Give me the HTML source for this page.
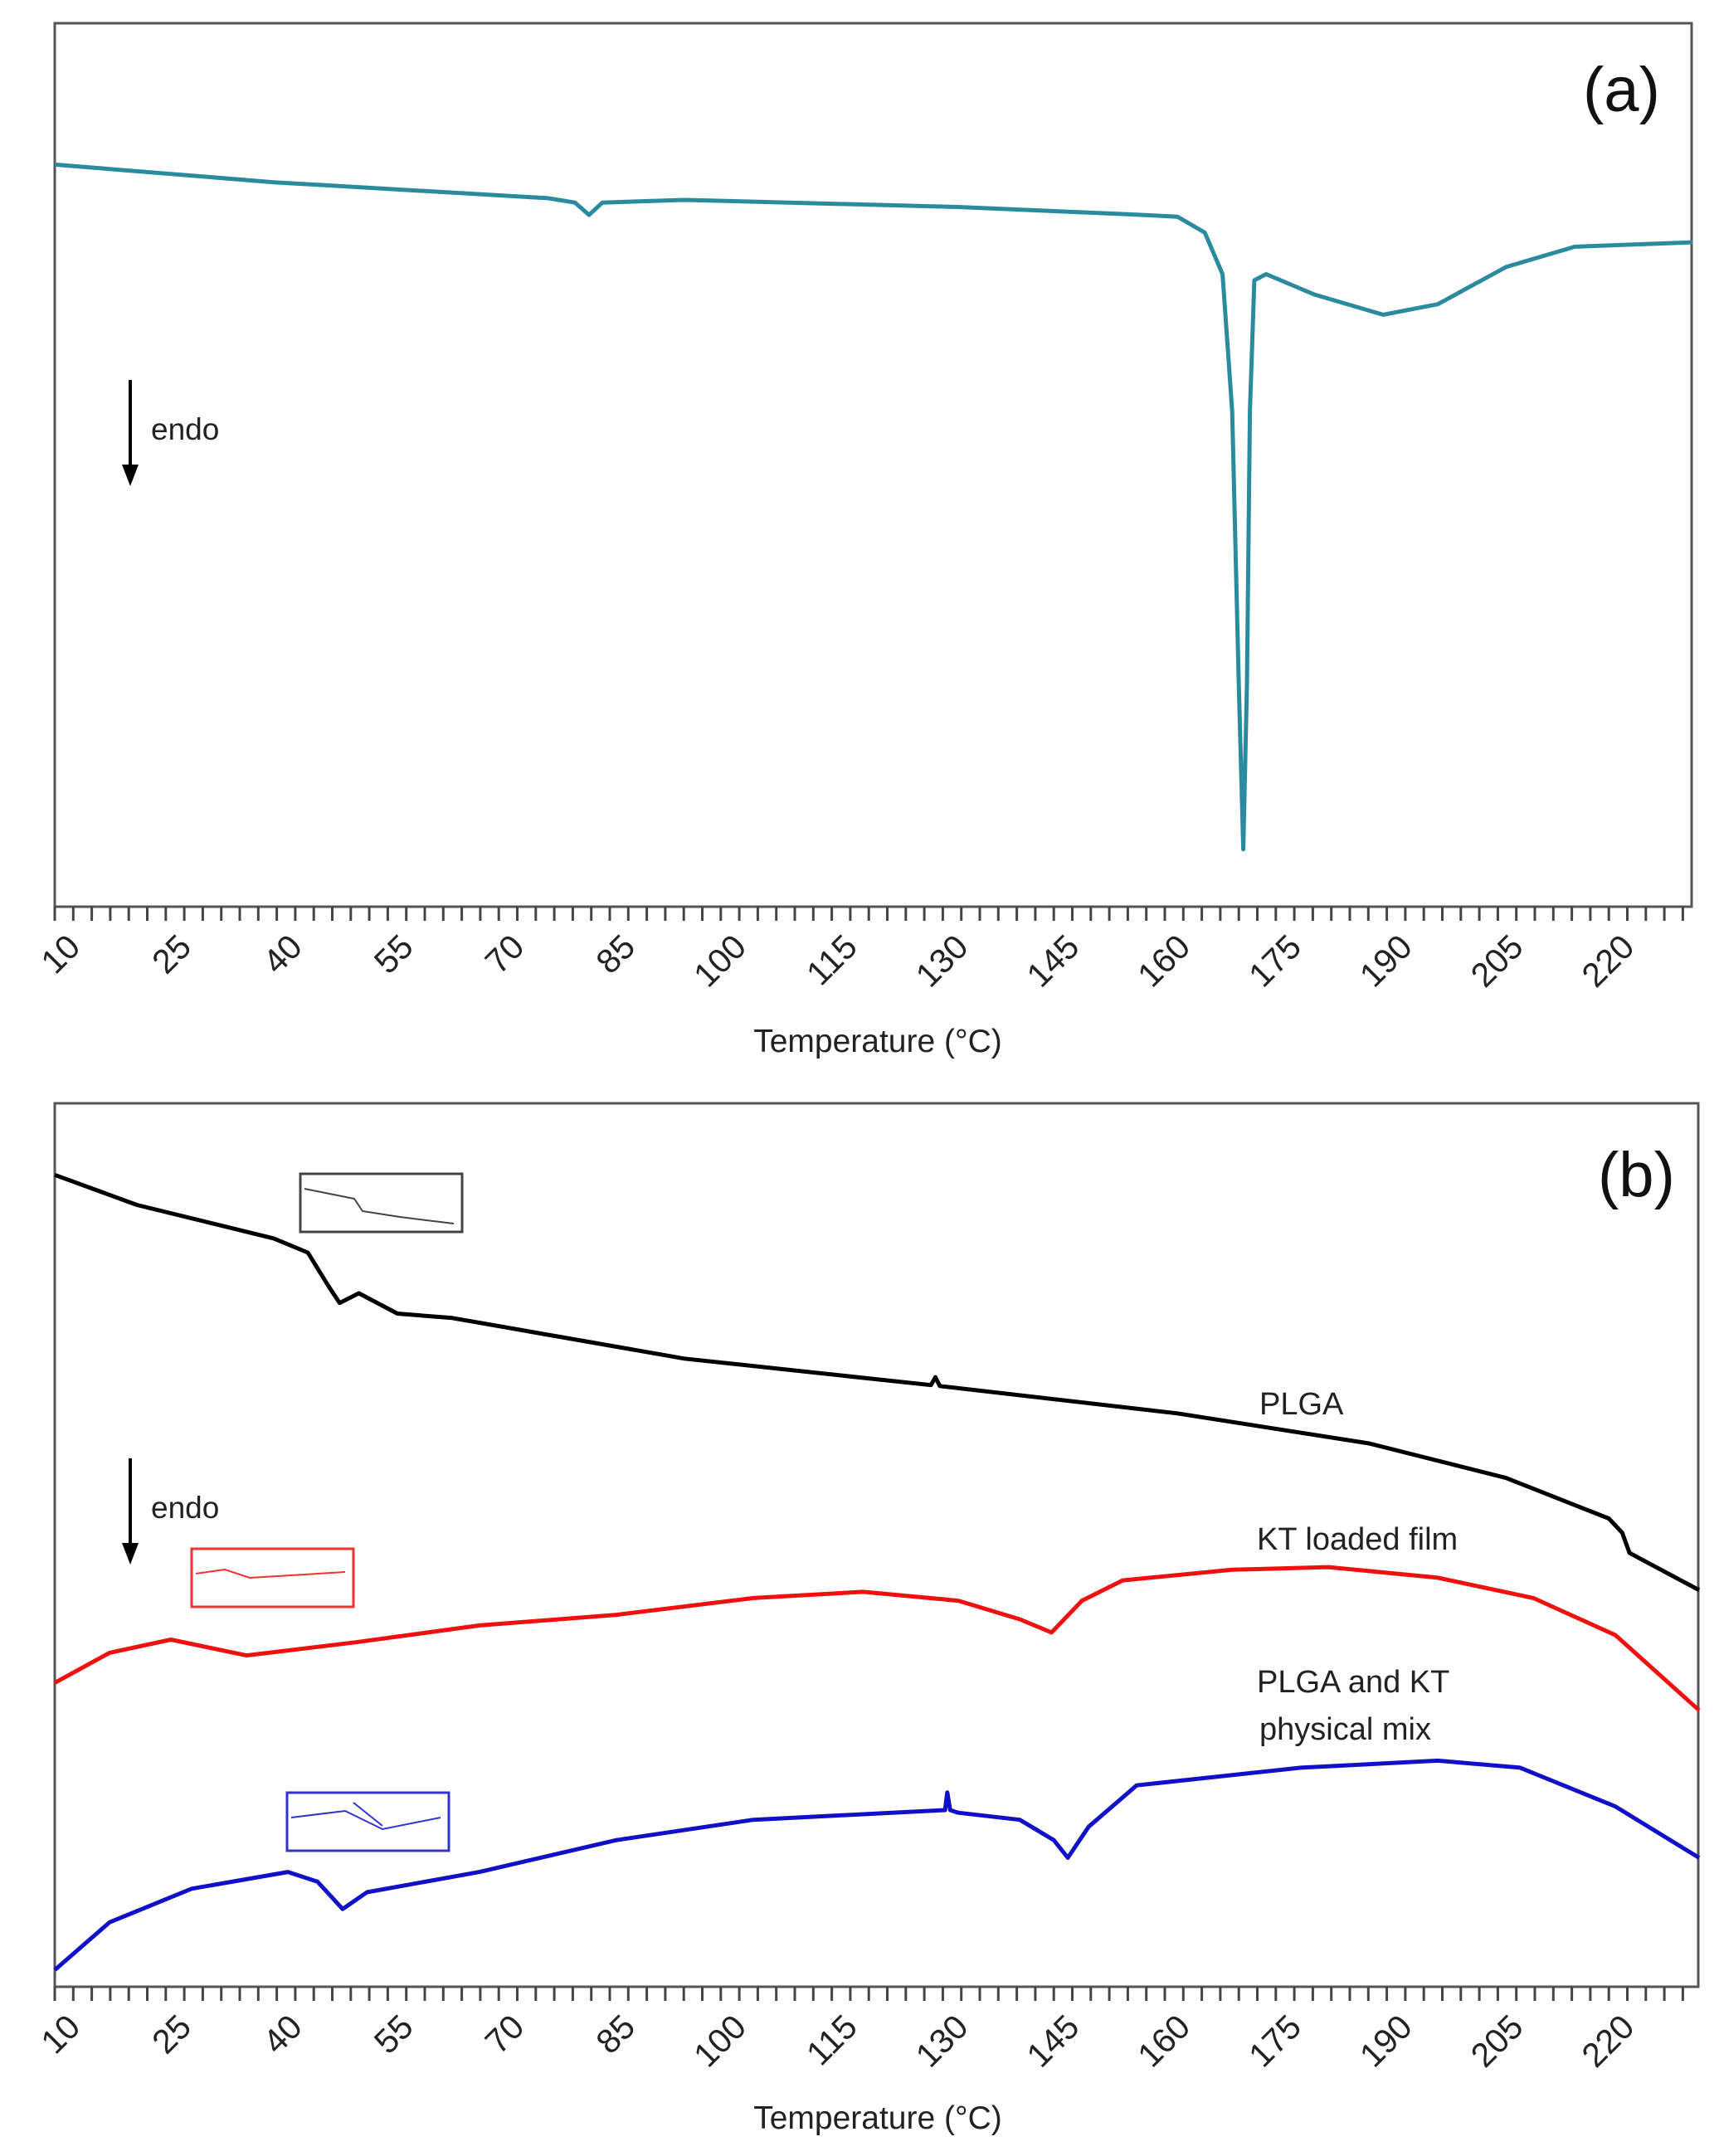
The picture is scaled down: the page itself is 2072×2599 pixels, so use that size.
<!DOCTYPE html>
<html><head><meta charset="utf-8"><style>
html,body{margin:0;padding:0;background:#fff;}
svg{display:block;font-family:"Liberation Sans","DejaVu Sans",sans-serif;}
</style></head><body>
<svg id="fig" width="2072" height="2599" viewBox="0 0 2072 2599" xmlns="http://www.w3.org/2000/svg">
</svg>
<script>
// Panel (a) data (temperature °C, normalized heat flow 0-100)
const aTemp = [10,39.6,76.6,80.3,82.2,84,95.1,132,154.3,161.7,165.4,167.8,169.1,170,170.6,171.1,171.5,172.1,173.7,180.2,189.5,196.9,206.1,215.4,231.3];
const aVal  = [84,82,80.2,79.7,78.3,79.7,80,79.2,78.4,78.1,76.3,71.6,56.1,25.1,6.5,25.1,56.1,70.9,71.6,69.3,67,68.2,72.4,74.7,75.2];
// Panel (b) data
const plgaTemp = [10,21.1,39.6,44.2,47,48.5,51.1,56.3,63.7,95.1,128.4,129,129.6,161.7,187.6,206.1,220,221.8,222.8,232.2];
const plgaVal  = [91.9,88.5,84.7,83.1,79.3,77.4,78.5,76.2,75.7,71.1,68.1,69,68,64.9,61.5,57.6,53,51.4,49.1,44.9];
const ktTemp = [10,17.4,25.7,35.9,50.7,67.4,85.9,104.4,119.2,132.1,140.4,144.7,148.8,154.3,169.1,182.1,196.9,209.8,220.9,232.2];
const ktVal  = [34.4,37.8,39.3,37.5,39,40.9,42.1,44,44.7,43.7,41.6,40.1,43.7,46,47.2,47.5,46.3,44,39.8,31.3];
const mixTemp = [10,17.4,28.5,41.5,45.5,48.9,52.2,67.4,85.9,104.4,130.3,130.6,131,132.1,140.4,145,146.9,149.7,156.2,178.4,196.9,208,220.9,232.2];
const mixVal  = [1.9,7.3,11.1,13,11.9,8.8,10.7,13,16.6,18.9,20,22,20,19.7,18.9,16.6,14.6,18.1,22.8,24.8,25.6,24.8,20.4,14.6];
const tickLabels = ["10","25","40","55","70","85","100","115","130","145","160","175","190","205","220"];

const NS="http://www.w3.org/2000/svg";
const svg=document.getElementById('fig');
function mk(tag,attrs,parent){const e=document.createElementNS(NS,tag);for(const k in attrs)e.setAttribute(k,attrs[k]);(parent||svg).appendChild(e);return e;}

function panel(p){
  const g=mk('g',{});
  
  
  const pxPerDeg=8.92;
  const xs=t=>p.left+(t-10)*pxPerDeg;
  const ys=v=>p.bottom-v/100*(p.bottom-p.top);
  const box=mk('rect',{x:p.left,y:p.top,width:p.right-p.left,height:p.bottom-p.top,fill:'none',stroke:'#555',"stroke-width":3},g);
  
  
  const ax=mk('g',{},g);
  
  
  for(let t=10;xs(t)<=p.right+1;t+=2.5){
    const tk=mk('line',{x1:xs(t),x2:xs(t),y1:p.bottom,y2:p.bottom+17,stroke:'#444',"stroke-width":3},ax);
    
    
  }
  tickLabels.forEach(l=>{
    const x=xs(+l)+12, y=p.bottom+30;
    const tx=mk('text',{x:x,y:y,"font-size":41,fill:'#222',"text-anchor":'end',"dominant-baseline":'hanging',transform:`rotate(-45 ${x} ${y})`},ax);
    tx.textContent=l;
    
    
  });
  const tt=mk('text',{x:1058,y:p.titleY,"font-size":39,fill:'#222',"text-anchor":'middle'},g);
  tt.textContent='Temperature (°C)';
  
  
  p.series.forEach(s=>{
    const d=s.t.map((t,i)=>(i?'L':'M')+xs(t).toFixed(1)+','+ys(s.v[i]).toFixed(1)).join(' ');
    const path=mk('path',{d:d,fill:'none',stroke:s.color,"stroke-width":5,"stroke-linejoin":'round'},g);
    
    
  });
  const lab=mk('text',{x:p.labX,y:p.labY,"font-size":76,fill:'#111'},g);
  lab.textContent=p.label;
  
  
  const ar=mk('g',{},g);
  
  
  mk('line',{x1:157,x2:157,y1:p.arrowY,y2:p.arrowY+110,stroke:'#000',"stroke-width":4},ar);
  mk('path',{d:`M147,${p.arrowY+102} L167,${p.arrowY+102} L157,${p.arrowY+128} Z`,fill:'#000'},ar);
  const en=mk('text',{x:182,y:p.arrowY+72,"font-size":37,fill:'#222'},g);
  en.textContent='endo';
  
  
  return g;
}
panel({name:'panel-a',left:66,right:2039,top:28,bottom:1093,titleY:1268,label:'(a)',labX:1908,labY:134,arrowY:458,
  series:[{name:'series-a',t:aTemp,v:aVal,color:'#2b8b9e'}]});
panel({name:'panel-b',left:66,right:2047,top:1330,bottom:2395,titleY:2566,label:'(b)',labX:1926,labY:1442,arrowY:1758,
  series:[{name:'series-plga',t:plgaTemp,v:plgaVal,color:'#000'},{name:'series-kt-loaded-film',t:ktTemp,v:ktVal,color:'#f01010'},{name:'series-physical-mix',t:mixTemp,v:mixVal,color:'#1010c8'}]});

function label(txt,x,y,name){const t=mk('text',{x:x,y:y,"font-size":38,fill:'#222'});t.textContent=txt;
  
  }
label('PLGA',1518,1705,'label-plga');
label('KT loaded film',1515,1868,'label-kt-loaded-film');
label('PLGA and KT',1515,2040,'label-physical-mix-1');
label('physical mix',1518,2097,'label-physical-mix-2');

function inset(x,y,color,d,name){const g=mk('g',{});
  
  
  mk('rect',{x:x,y:y,width:195,height:70,fill:'none',stroke:color,"stroke-width":3},g);
  mk('path',{d:d,fill:'none',stroke:color,"stroke-width":2,transform:`translate(${x},${y})`},g);}
inset(362,1415,'#444','M5,18 L65,30 L75,45 L120,52 L185,60','inset-plga');
inset(231,1867,'#e33','M5,30 L40,25 L70,35 L120,32 L185,28','inset-kt-film');
inset(346,2161,'#33c','M5,30 L70,22 L115,44 L185,30 M80,12 L115,40','inset-mix');
</script>
</body></html>
